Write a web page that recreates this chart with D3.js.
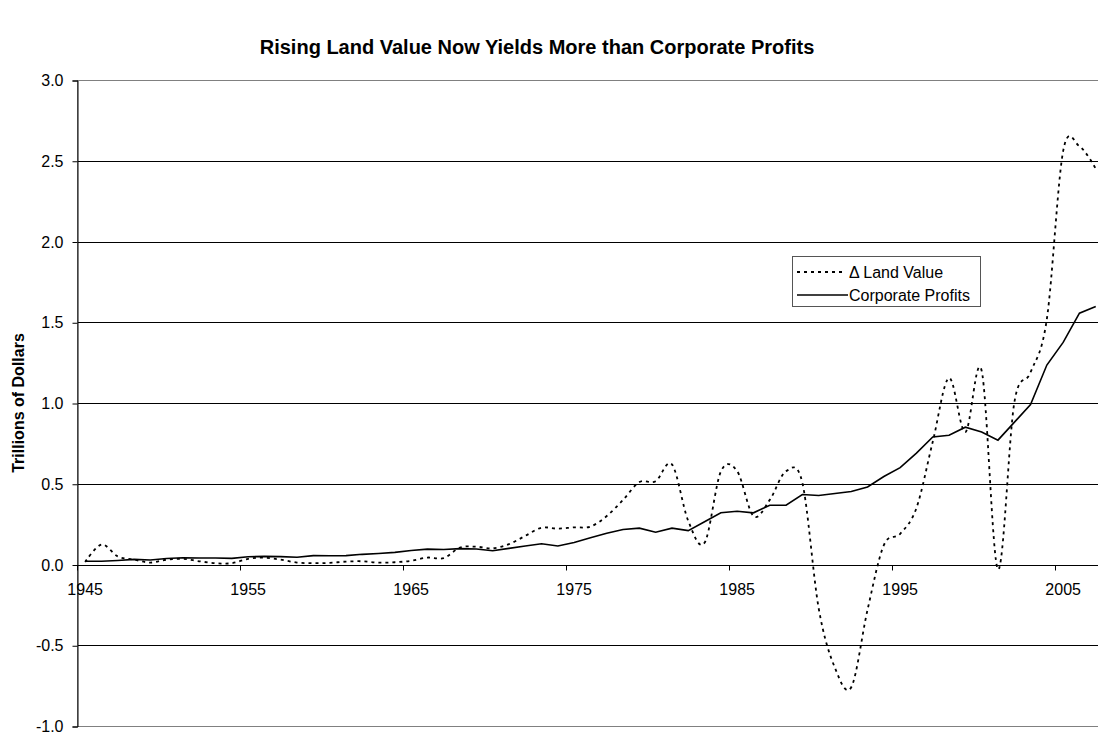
<!DOCTYPE html>
<html>
<head>
<meta charset="utf-8">
<script src="https://cdn.jsdelivr.net/npm/d3@7"></script>
<style>
body { margin: 0; background: #fff; }
text { font-family: Arial, "Liberation Sans", sans-serif; }
</style>
</head>
<body>
<div id="chart"></div>
<script>
var w = 1098,
h = 734;

//Categories (years)
var years = [1945,1946,1947,1948,1949,1950,1951,1952,1953,1954,
1955,1956,1957,1958,1959,1960,1961,1962,1963,1964,
1965,1966,1967,1968,1969,1970,1971,1972,1973,1974,
1975,1976,1977,1978,1979,1980,1981,1982,1983,1984,
1985,1986,1987,1988,1989,1990,1991,1992,1993,1994,
1995,1996,1997,1998,1999,2000,2001,2002,2003,2004,
2005,2006,2007];

//Change in land value, trillions
var landValue = [0.015,0.124,0.05,0.03,0.012,0.03,0.035,0.02,0.008,0.008,
0.035,0.042,0.03,0.012,0.008,0.01,0.018,0.02,0.012,0.014,
0.023,0.043,0.04,0.105,0.11,0.10,0.126,0.177,0.228,0.222,
0.23,0.235,0.30,0.40,0.51,0.516,0.62,0.27,0.134,0.575,
0.578,0.30,0.40,0.578,0.506,-0.27,-0.64,-0.76,-0.28,0.12,
0.19,0.35,0.76,1.155,0.82,1.20,-0.03,1.00,1.19,1.52,
2.56,2.59,2.45];

//Corporate profits, trillions
var profits = [0.02,0.02,0.025,0.032,0.028,0.037,0.042,0.04,0.04,0.038,
0.048,0.05,0.049,0.045,0.055,0.054,0.055,0.063,0.068,0.075,
0.087,0.095,0.093,0.098,0.096,0.085,0.10,0.115,0.128,0.115,
0.136,0.165,0.194,0.217,0.225,0.20,0.225,0.21,0.265,0.32,
0.33,0.32,0.367,0.367,0.433,0.427,0.44,0.452,0.48,0.545,
0.60,0.69,0.79,0.80,0.85,0.82,0.77,0.88,0.99,1.235,
1.375,1.556,1.597];

var yTicks = [-1.0,-0.5,0.0,0.5,1.0,1.5,2.0,2.5,3.0];
var xLabels = [1945,1955,1965,1975,1985,1995,2005];
var legendNames = ["\u0394 Land Value", "Corporate Profits"];

var plotLeft = 77, plotTop = 80, plotW = 63 * 16.3, plotH = 646;

var svg = d3.select("#chart").append("svg")
.attr("width", w)
.attr("height", h);

var x = d3.scaleBand()
.domain(years)
.range([plotLeft, plotLeft + plotW])
.padding(0);

var y = d3.scaleLinear()
.domain([-1, 3])
.range([plotTop + plotH, plotTop]);

function cx(d, i){ return x(years[i]) + x.bandwidth() / 2; }

//Title
svg.append("text")
.attr("x", 537)
.attr("y", 54)
.attr("text-anchor", "middle")
.attr("font-size", "20px")
.attr("font-weight", "bold")
.text("Rising Land Value Now Yields More than Corporate Profits");

//Y title
svg.append("text")
.attr("transform", "translate(24," + (plotTop + plotH / 2) + ") rotate(-90)")
.attr("text-anchor", "middle")
.attr("font-size", "16px")
.attr("font-weight", "bold")
.text("Trillions of Dollars");

//Gridlines
svg.append("g")
.selectAll("line")
.data(yTicks.filter(function(d){ return d > -1 && d < 3; }))
.enter().append("line")
.attr("x1", plotLeft)
.attr("x2", plotLeft + plotW)
.attr("y1", function(d){ return Math.round(y(d)) + 0.5; })
.attr("y2", function(d){ return Math.round(y(d)) + 0.5; })
.attr("stroke", "#000")
.attr("stroke-width", 1);

//Plot border top/bottom
svg.append("rect")
.attr("x", plotLeft + 0.5)
.attr("y", Math.round(plotTop) + 0.5)
.attr("width", plotW)
.attr("height", Math.round(plotH))
.attr("fill", "none")
.attr("stroke", "#808080");

//Y axis
var yAxis = svg.append("g")
.attr("transform", "translate(" + (plotLeft + 0.5) + ",0.5)")
.call(d3.axisLeft(y).tickValues(yTicks).tickSizeOuter(0).tickSize(5).tickPadding(9)
.tickFormat(function(d){ return d.toFixed(1); }));
yAxis.selectAll("text").attr("font-size", "16px").attr("font-family", null).attr("fill", "#000");
yAxis.select(".domain").attr("stroke", "#000");

//X axis at zero
var xAxis = svg.append("g")
.attr("transform", "translate(0," + (Math.round(y(0)) + 0.5) + ")");
xAxis.append("line")
.attr("x1", plotLeft)
.attr("x2", plotLeft + plotW)
.attr("stroke", "#000");
xAxis.selectAll(".tick")
.data(xLabels)
.enter().append("line")
.attr("x1", function(d){ return Math.round(x(d)) + 0.5; })
.attr("x2", function(d){ return Math.round(x(d)) + 0.5; })
.attr("y1", 0)
.attr("y2", 5)
.attr("stroke", "#000");
xAxis.selectAll("text")
.data(xLabels)
.enter().append("text")
.attr("x", function(d){ return x(d) + x.bandwidth() / 2; })
.attr("y", 29)
.attr("text-anchor", "middle")
.attr("font-size", "16px")
.text(function(d){ return d; });

//Lines
var landLine = d3.line()
.x(cx)
.y(function(d){ return y(d); })
.curve(d3.curveCardinal.tension(0));

var profitLine = d3.line()
.x(cx)
.y(function(d){ return y(d); });

svg.append("path")
.datum(landValue)
.attr("d", landLine)
.attr("fill", "none")
.attr("stroke", "#000")
.attr("stroke-width", 1.8)
.attr("stroke-dasharray", "3,4");

svg.append("path")
.datum(profits)
.attr("d", profitLine)
.attr("fill", "none")
.attr("stroke", "#000")
.attr("stroke-width", 1.6);

//Legend
var legend = svg.append("g")
.attr("class", "legend");

legend.append("rect")
.attr("x", 792.5)
.attr("y", 256.5)
.attr("width", 188)
.attr("height", 50)
.attr("fill", "#fff")
.attr("stroke", "#555");

legend.selectAll("line")
.data(legendNames)
.enter().append("line")
.attr("x1", 797)
.attr("x2", function(d, i){ return i == 0 ? 842 : 848; })
.attr("y1", function(d, i){ return 272 + i * 23; })
.attr("y2", function(d, i){ return 272 + i * 23; })
.attr("stroke", "#000")
.attr("stroke-width", function(d, i){ return i == 0 ? 1.8 : 1.6; })
.attr("stroke-dasharray", function(d, i){ return i == 0 ? "3,4" : null; });

legend.selectAll("text")
.data(legendNames)
.enter().append("text")
.attr("x", 849)
.attr("y", function(d, i){ return 278 + i * 23; })
.attr("font-size", "16px")
.text(function(d){ return d; });
</script>
</body>
</html>
